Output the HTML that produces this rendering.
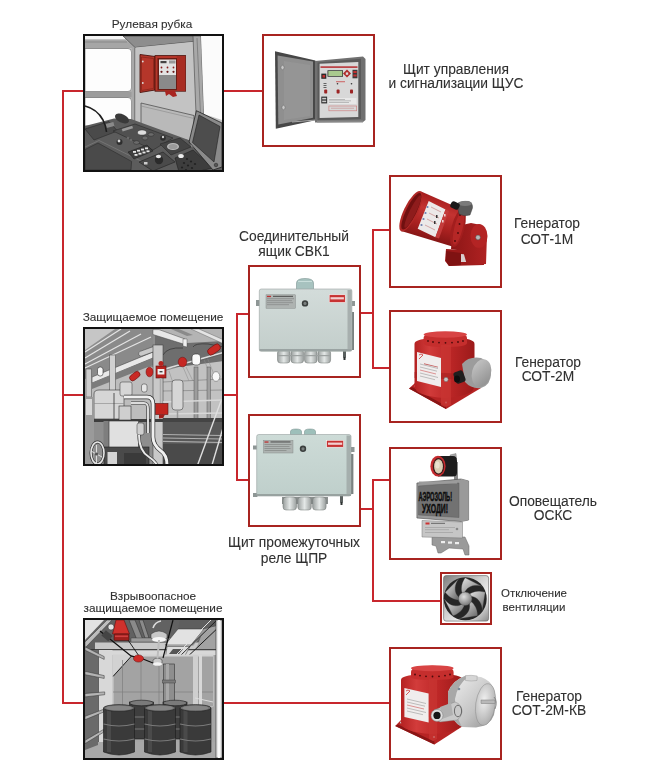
<!DOCTYPE html>
<html><head><meta charset="utf-8">
<style>
html,body{margin:0;padding:0;background:#fff;width:653px;height:783px;overflow:hidden;position:relative}
.a{position:absolute}
.r{position:absolute;background:#c8262d}
.bx{position:absolute;box-sizing:border-box;border:2px solid #a82420;background:#fff}
.sc{position:absolute;overflow:hidden}
.fr{position:absolute;left:0;top:0;right:0;bottom:0;box-sizing:border-box;border:2px solid #111}
.t{position:absolute;font-family:"Liberation Sans",sans-serif;color:#303030;will-change:transform;-webkit-text-stroke:0.1px #303030;white-space:nowrap;text-align:center;width:240px}
.t13{font-size:13.8px;line-height:13.8px}
.t12{font-size:11.8px;line-height:11.8px}
.t11{font-size:11.5px;line-height:11.5px}
svg{position:absolute;left:0;top:0}
</style></head><body>
<div class="r" style="left:62px;top:90px;width:2px;height:614px"></div>
<div class="r" style="left:62px;top:90px;width:21px;height:2px"></div>
<div class="r" style="left:224px;top:90px;width:38px;height:2px"></div>
<div class="r" style="left:62px;top:394px;width:21px;height:2px"></div>
<div class="r" style="left:224px;top:394px;width:13px;height:2px"></div>
<div class="r" style="left:62px;top:702px;width:21px;height:2px"></div>
<div class="r" style="left:224px;top:702px;width:165px;height:2px"></div>
<div class="r" style="left:236px;top:313px;width:2px;height:168px"></div>
<div class="r" style="left:236px;top:313px;width:12px;height:2px"></div>
<div class="r" style="left:236px;top:479px;width:12px;height:2px"></div>
<div class="r" style="left:361px;top:312px;width:12px;height:2px"></div>
<div class="r" style="left:372px;top:229px;width:2px;height:140px"></div>
<div class="r" style="left:372px;top:229px;width:17px;height:2px"></div>
<div class="r" style="left:372px;top:367px;width:17px;height:2px"></div>
<div class="r" style="left:361px;top:508px;width:12px;height:2px"></div>
<div class="r" style="left:372px;top:479px;width:2px;height:123px"></div>
<div class="r" style="left:372px;top:479px;width:17px;height:2px"></div>
<div class="r" style="left:372px;top:600px;width:68px;height:2px"></div>

<div class="bx" style="left:262px;top:34px;width:113px;height:113px"><svg width="109" height="109" viewBox="0 0 109 109" style="left:0;top:0">
<!-- door -->
<polygon points="11,15.2 51.4,24.4 51.4,84.2 11.8,92.7" fill="#474747"/>
<polygon points="13.6,19.4 49,25.6 49,81.8 14.3,88.4" fill="#8f8f8f"/>
<polygon points="20,25 46,29 46,80 20,84" fill="#999" opacity="0.6"/>
<ellipse cx="18.5" cy="31.5" rx="1.6" ry="2.2" fill="#c8c8c8" stroke="#555" stroke-width="0.4"/>
<ellipse cx="19.5" cy="71.5" rx="1.6" ry="2.2" fill="#c8c8c8" stroke="#555" stroke-width="0.4"/>
<line x1="28" y1="86" x2="52" y2="84" stroke="#aaa" stroke-width="1.2"/>
<!-- cabinet -->
<polygon points="51,25 99,20.5 101.5,23 101.5,84 99,86 51,86.5" fill="#707070"/>
<polygon points="53.5,26.5 97,22.8 97,83 53.5,84.5" fill="#5a5a5a"/>
<polygon points="55.6,27.8 94.3,26 94.3,81 55.6,82" fill="#d8d8d8"/>
<rect x="56.5" y="30.3" width="37" height="1.6" fill="#b8363a"/>
<rect x="63.5" y="34.3" width="15.5" height="6.4" fill="#2a2a2a"/>
<rect x="64.3" y="35" width="14" height="5" fill="#a9c98f"/>
<rect x="57.3" y="37.6" width="5" height="5.2" fill="#2a2a2a"/>
<rect x="58.5" y="39" width="2.6" height="2.6" fill="#c43030"/>
<polygon points="83,33.5 87,37.5 83,41.5 79,37.5" fill="#b02a2a"/>
<rect x="81.8" y="36.4" width="2.4" height="2.4" fill="#ddd"/>
<rect x="88.5" y="33.8" width="5" height="8.5" fill="#3a3a3a"/>
<rect x="89.3" y="35" width="3.4" height="2" fill="#c43030"/><rect x="89.3" y="38.5" width="3.4" height="2" fill="#c43030"/>
<rect x="72" y="45.3" width="9" height="0.9" fill="#c55"/>
<circle cx="73.5" cy="47.8" r="0.8" fill="#333"/><circle cx="87.5" cy="47.8" r="0.8" fill="#333"/>
<g fill="#555"><rect x="59.5" y="47" width="3" height="0.9"/><rect x="59.5" y="49" width="3" height="0.9"/><rect x="59.5" y="51" width="3" height="0.9"/></g>
<rect x="60.2" y="53.6" width="3" height="4" rx="0.8" fill="#9c2424"/>
<rect x="72.6" y="53.6" width="3" height="4" rx="0.8" fill="#9c2424"/>
<rect x="86" y="53.6" width="3" height="4" rx="0.8" fill="#9c2424"/>
<rect x="57.3" y="60.6" width="5.8" height="6.8" fill="#2e2e2e"/>
<rect x="58.2" y="61.8" width="4" height="1.6" fill="#ccc"/><rect x="58.2" y="64.6" width="4" height="1.6" fill="#ccc"/>
<rect x="64.5" y="62" width="28" height="6" fill="#e8e8e8"/>
<g fill="#999"><rect x="65" y="63" width="16" height="0.6"/><rect x="65" y="64.6" width="22" height="0.6"/><rect x="65" y="66.2" width="20" height="0.6"/></g>
<rect x="64.9" y="70" width="27.8" height="4.8" fill="none" stroke="#c77" stroke-width="0.6"/>
<rect x="67" y="71.8" width="23" height="0.8" fill="#c9a0a0"/>
<rect x="53" y="84.5" width="46" height="2" fill="#888"/>
</svg></div>
<div class="bx" style="left:248px;top:265px;width:113px;height:113px"><svg width="109" height="109" viewBox="0 0 109 109" style="left:0;top:0">
<defs>
<linearGradient id="gbody" x1="0" y1="0" x2="0" y2="1"><stop offset="0" stop-color="#d3dcda"/><stop offset="1" stop-color="#c3cecb"/></linearGradient>
<linearGradient id="ggl" x1="0" y1="0" x2="1" y2="0"><stop offset="0" stop-color="#9a9f9e"/><stop offset="0.5" stop-color="#e4e8e7"/><stop offset="1" stop-color="#9a9f9e"/></linearGradient>
</defs>
<!-- glands bottom -->
<g stroke="#6f7473" stroke-width="0.5">
<rect x="27.5" y="83" width="12.6" height="13" rx="3" fill="url(#ggl)"/>
<rect x="41" y="83" width="12.6" height="13" rx="3" fill="url(#ggl)"/>
<rect x="54.5" y="83" width="12.6" height="13" rx="3" fill="url(#ggl)"/>
<rect x="68" y="83" width="12.6" height="13" rx="3" fill="url(#ggl)"/>
</g>
<g fill="#9da2a1"><rect x="28" y="88" width="52" height="1.2"/></g>
<!-- top gland -->
<path d="M46.5,22.5 V16 Q46.5,11.5 55,11.5 Q63.5,11.5 63.5,16 V22.5 Z" fill="#a7c2bf" stroke="#6b8582" stroke-width="0.5"/>
<rect x="48" y="14" width="14" height="1" fill="#c9dedb"/>
<!-- side brackets -->
<rect x="6" y="33" width="4" height="6" fill="#8e9695"/>
<rect x="101" y="34" width="4" height="5" fill="#8e9695"/>
<rect x="101.5" y="45" width="2.5" height="38" fill="#7a8281"/>
<path d="M93,84 h3 v6 q-1.5,3 -3,0 z" fill="#5a605f"/><rect x="93.5" y="90" width="2" height="3" fill="#2e3332"/>
<!-- body -->
<rect x="9.3" y="22" width="92.6" height="62.2" rx="2" fill="url(#gbody)" stroke="#9aa2a1" stroke-width="0.6"/>
<rect x="97.5" y="23" width="4.2" height="60" fill="#a7afae"/>
<rect x="9.5" y="82" width="92" height="2.2" fill="#9aa3a2"/>
<!-- label -->
<rect x="16" y="27.8" width="29.5" height="13.5" fill="#aeb3b1" stroke="#7d8281" stroke-width="0.4"/>
<rect x="17" y="28.8" width="4" height="1.3" fill="#b33"/>
<rect x="23" y="28.8" width="20" height="1.1" fill="#555"/>
<g fill="#7c7f7e"><rect x="17" y="31.5" width="27" height="0.6"/><rect x="17" y="33.5" width="25" height="0.6"/><rect x="17" y="35.5" width="26" height="0.6"/><rect x="17" y="37.5" width="22" height="0.6"/></g>
<!-- screw -->
<circle cx="55" cy="36.4" r="3.2" fill="#3b3f3e"/>
<circle cx="55" cy="36.4" r="1.6" fill="#7b807f"/>
<!-- logo -->
<rect x="79.2" y="27.8" width="16" height="7.6" fill="#c73232" stroke="#fff" stroke-width="0.5"/>
<rect x="80.5" y="30.2" width="13.4" height="2.2" fill="#f3d0d0"/>
</svg></div>
<div class="bx" style="left:389px;top:175px;width:113px;height:113px"><svg width="109" height="109" viewBox="0 0 109 109" style="left:0;top:0">
<defs>
<linearGradient id="gr1" gradientUnits="userSpaceOnUse" x1="34" y1="16" x2="22" y2="62"><stop offset="0" stop-color="#a51d1d"/><stop offset="0.3" stop-color="#c33331"/><stop offset="0.65" stop-color="#a92120"/><stop offset="1" stop-color="#7e1313"/></linearGradient>
<linearGradient id="gbr1" x1="0" y1="0" x2="1" y2="0"><stop offset="0" stop-color="#8c1616"/><stop offset="1" stop-color="#b02222"/></linearGradient>
</defs>
<!-- base -->
<polygon points="55,72 92,74 93,88 58,89 54,84" fill="#9c1a1a"/>
<polygon points="55,74 70,76 70,88 58,89 55,84" fill="#7f1212"/>
<polygon points="70,77 76,77.5 76,85 70,85" fill="#d9cfcf"/>
<!-- bracket -->
<polygon points="62,50 80,46 90,48 96,58 95,87 76,88 72,74 60,72" fill="url(#gbr1)"/>
<ellipse cx="88" cy="59" rx="8.5" ry="12" fill="#b32424"/>
<circle cx="87" cy="60.5" r="2.4" fill="#b8b8b8" stroke="#4a4a4a" stroke-width="0.5"/>
<!-- cylinder body -->
<polygon points="29.6,14.3 70,32 63,70 10.2,54.1" fill="url(#gr1)"/>
<!-- rear flange -->
<ellipse cx="67" cy="51" rx="6.5" ry="19.5" fill="#a21e1e" transform="rotate(14 67 51)"/>
<ellipse cx="67.5" cy="51" rx="4.2" ry="17" fill="#b52726" transform="rotate(14 67.5 51)"/>
<g fill="#4a0a0a"><circle cx="69" cy="38" r="0.9"/><circle cx="68.5" cy="47" r="0.9"/><circle cx="67" cy="56" r="0.9"/><circle cx="64" cy="64" r="0.9"/></g>
<!-- label -->
<polygon points="37.7,24 54.5,32.4 44.4,60.2 26.7,51.8" fill="#ece9e9"/>
<g fill="#6c7fb0"><circle cx="36.5" cy="30" r="1.1"/><circle cx="34.5" cy="36" r="1.1"/><circle cx="32.5" cy="42" r="1.1"/><circle cx="30.5" cy="48" r="1.1"/></g>
<g stroke="#b86060" stroke-width="0.5"><line x1="40" y1="30" x2="50" y2="35"/><line x1="38" y1="36" x2="48" y2="41"/><line x1="36" y1="42" x2="46" y2="47"/><line x1="34" y1="48" x2="44" y2="53"/></g>
<g fill="#333"><rect x="45" y="38" width="1.5" height="3"/><rect x="43" y="44" width="1.5" height="3"/></g>
<polygon points="54.5,32.4 58,34 48,61.5 44.4,60.2" fill="#c33b3b"/>
<g fill="#f0d0d0"><rect x="53" y="37" width="1.6" height="2.5"/><rect x="51" y="43" width="1.6" height="2.5"/></g>
<!-- front rim -->
<ellipse cx="19.9" cy="34.2" rx="7" ry="22.2" fill="#b02826" transform="rotate(26 19.9 34.2)"/>
<ellipse cx="20.3" cy="34.2" rx="5.2" ry="20.2" fill="#701010" transform="rotate(26 20.3 34.2)"/>
<ellipse cx="21.8" cy="34.6" rx="3.2" ry="18" fill="#8e1c1c" transform="rotate(26 21.8 34.6)"/>
<!-- junction box -->
<path d="M66,27 Q70,23.5 78,24.5 Q82,26 81.5,31 L79,38 Q73,40 68,37 Z" fill="#5a5a5a" stroke="#333" stroke-width="0.4"/>
<ellipse cx="74" cy="26.5" rx="7" ry="2.6" fill="#7a7a7a"/>
<rect x="59.5" y="25" width="9" height="7" rx="2.5" fill="#1a1a1a" transform="rotate(25 64 28.5)"/>
</svg></div>
<div class="bx" style="left:389px;top:310px;width:113px;height:113px"><svg width="109" height="109" viewBox="0 0 109 109" style="left:0;top:0">
<defs>
<linearGradient id="gr2" x1="0" y1="0" x2="1" y2="0"><stop offset="0" stop-color="#b42222"/><stop offset="0.25" stop-color="#d13b3a"/><stop offset="0.6" stop-color="#bb2626"/><stop offset="1" stop-color="#9c1a1a"/></linearGradient>
<linearGradient id="gg2" x1="0" y1="0" x2="1" y2="1"><stop offset="0" stop-color="#c9c9c9"/><stop offset="1" stop-color="#8a8a8a"/></linearGradient>
</defs>
<!-- base plate -->
<polygon points="18,76.5 24,71 85,71 90,76 55,97" fill="#b52323"/>
<polygon points="18,76.5 55,97 55,94 21,75" fill="#8a1515"/>
<circle cx="24.5" cy="74" r="1" fill="#ccc"/><circle cx="55" cy="90.5" r="1.1" fill="#ccc"/>
<!-- body -->
<path d="M23.5,32 Q23.5,27 40,26.5 L70,26.5 Q83.5,27 83.5,32 V74 Q83.5,84 54,86 Q23.5,84 23.5,74 Z" fill="url(#gr2)"/>
<!-- cap -->
<path d="M32.6,26 Q32.6,20 54.3,20 Q76,20 76,26 V31 Q76,35 54.3,35 Q32.6,35 32.6,31 Z" fill="#c52e2d"/>
<ellipse cx="54.3" cy="22.5" rx="21.7" ry="3.2" fill="#d84444"/>
<g fill="#4a0a0a"><circle cx="37" cy="29" r="0.9"/><circle cx="42" cy="30" r="0.9"/><circle cx="48" cy="30.6" r="0.9"/><circle cx="54.5" cy="30.8" r="0.9"/><circle cx="61" cy="30.6" r="0.9"/><circle cx="67" cy="30" r="0.9"/><circle cx="72" cy="29" r="0.9"/></g>
<!-- strap -->
<polygon points="50,33 60,33 60,93 54,95 50,93" fill="#c83432" opacity="0.8"/>
<polygon points="23.5,60 83.5,62 83.5,68 23.5,66" fill="#a51f1f" opacity="0.6"/>
<!-- label -->
<polygon points="26,40 50,46 50,75 26,69" fill="#f0eded"/>
<path d="M28,43 q2,-2 4,0 q-2,2 -4,4" fill="none" stroke="#c33" stroke-width="0.8"/>
<g fill="#c46060"><rect x="33" y="43" width="14" height="0.9" transform="skewY(14)" /></g>
<g stroke="#999" stroke-width="0.6"><line x1="29" y1="52" x2="47" y2="56.5"/><line x1="29" y1="55" x2="46" y2="59.2"/><line x1="29" y1="61" x2="47" y2="65.5"/><line x1="29" y1="64" x2="44" y2="67.7"/></g>
<g stroke="#c55" stroke-width="0.6"><line x1="29" y1="58" x2="45" y2="62"/></g>
<circle cx="55" cy="67.5" r="2.2" fill="#c4c4c4" stroke="#555" stroke-width="0.4"/>
<!-- junction box -->
<path d="M71,52 Q78,44 90,46 Q100,50 100,61 Q100,73 90,76 Q80,77 74,70 Z" fill="#9c9c9c"/>
<ellipse cx="90.5" cy="61" rx="9.5" ry="14" fill="url(#gg2)" transform="rotate(15 90.5 61)"/>
<rect x="63.5" y="59" width="10" height="12" rx="2.5" fill="#1f1f1f" transform="rotate(-20 68.5 65)"/>
<ellipse cx="66" cy="67" rx="3" ry="3.6" fill="#0e0e0e"/>
</svg></div>
<div class="bx" style="left:248px;top:414px;width:113px;height:113px"><svg width="109" height="108" viewBox="0 0 109 108" style="left:0;top:0">
<defs>
<linearGradient id="gbody2" x1="0" y1="0" x2="0" y2="1"><stop offset="0" stop-color="#cddbd7"/><stop offset="1" stop-color="#bfcfcb"/></linearGradient>
<linearGradient id="ggl2" x1="0" y1="0" x2="1" y2="0"><stop offset="0" stop-color="#9a9f9e"/><stop offset="0.5" stop-color="#e4e8e7"/><stop offset="1" stop-color="#9a9f9e"/></linearGradient>
</defs>
<rect x="32" y="81" width="46" height="7" fill="#8b908f"/>
<g stroke="#6f7473" stroke-width="0.5">
<rect x="33" y="81" width="13.5" height="13" rx="3" fill="url(#ggl2)"/>
<rect x="47.8" y="81" width="13.5" height="13" rx="3" fill="url(#ggl2)"/>
<rect x="62.6" y="81" width="13.5" height="13" rx="3" fill="url(#ggl2)"/>
</g>
<path d="M40.5,19 V15.5 Q40.5,13 46,13 Q51.5,13 51.5,15.5 V19 Z" fill="#9dbfba" stroke="#6b8582" stroke-width="0.5"/>
<path d="M54.5,19 V15.5 Q54.5,13 60,13 Q65.5,13 65.5,15.5 V19 Z" fill="#9dbfba" stroke="#6b8582" stroke-width="0.5"/>
<rect x="3" y="29.5" width="4.5" height="4" fill="#8e9695"/>
<rect x="3" y="77" width="4.5" height="4" fill="#8e9695"/>
<rect x="100.5" y="31" width="4" height="5" fill="#8e9695"/>
<rect x="101" y="38" width="2.4" height="40" fill="#7a8281"/>
<path d="M90,80 h3 v6 q-1.5,3 -3,0 z" fill="#5a605f"/><rect x="90.5" y="86" width="2" height="3" fill="#2e3332"/>
<rect x="6.7" y="18.5" width="94.3" height="61.5" rx="2" fill="url(#gbody2)" stroke="#97a09f" stroke-width="0.6"/>
<rect x="96.5" y="19.5" width="4.3" height="60" fill="#a5afad"/>
<rect x="7" y="78" width="94" height="2" fill="#98a2a0"/>
<rect x="13.5" y="24.4" width="29.5" height="12.6" fill="#aeb4b2" stroke="#7d8281" stroke-width="0.4"/>
<rect x="14.5" y="25.4" width="4" height="1.3" fill="#b33"/>
<rect x="20.5" y="25.4" width="20" height="1.1" fill="#555"/>
<g fill="#7c7f7e"><rect x="14.5" y="28.2" width="27" height="0.6"/><rect x="14.5" y="30.2" width="25" height="0.6"/><rect x="14.5" y="32.2" width="26" height="0.6"/><rect x="14.5" y="34.2" width="22" height="0.6"/></g>
<circle cx="53" cy="32.8" r="3.2" fill="#3b3f3e"/>
<circle cx="53" cy="32.8" r="1.6" fill="#7b807f"/>
<rect x="76.7" y="24.4" width="16.8" height="6.8" fill="#c73232" stroke="#fff" stroke-width="0.5"/>
<rect x="78" y="26.6" width="14.2" height="2.2" fill="#f3d0d0"/>
</svg></div>
<div class="bx" style="left:389px;top:447px;width:113px;height:113px"><svg width="109" height="108" viewBox="0 0 109 108" style="left:0;top:0">
<defs>
<linearGradient id="gbox" x1="0" y1="0" x2="1" y2="0"><stop offset="0" stop-color="#8a8a8a"/><stop offset="0.5" stop-color="#777"/><stop offset="1" stop-color="#6a6a6a"/></linearGradient>
</defs>
<!-- bottom bracket -->
<polygon points="41,88 74,88 78,97 78,106 74,106 72,100 58,99 50,104 47,104 45,97 41,96" fill="#9a9a9a" stroke="#666" stroke-width="0.5"/>
<g fill="#eee"><rect x="50" y="92" width="4" height="2.2"/><rect x="57" y="92.5" width="4" height="2.2"/><rect x="64" y="93" width="4" height="2.2"/></g>
<!-- top bracket -->
<polygon points="59,6 65,4.5 65.5,10 59.5,11" fill="#a8a8a8" stroke="#666" stroke-width="0.4"/>
<rect x="63" y="13" width="4" height="18" fill="#8a8a8a"/>
<!-- siren body -->
<path d="M47,7 H62 Q66,7 66,12 V24 Q66,27.5 62,27.5 H47 Z" fill="#1d1d1d"/>
<ellipse cx="47" cy="17.2" rx="7.6" ry="10.4" fill="#c42b2e"/>
<ellipse cx="47.5" cy="17.4" rx="5.6" ry="8.4" fill="#3a1a1a"/>
<ellipse cx="47.5" cy="17.4" rx="4.4" ry="7.2" fill="#d9cdb3"/>
<ellipse cx="46.5" cy="16" rx="2.2" ry="3.6" fill="#ebe2cf"/>
<!-- main box -->
<polygon points="25.9,34 70,30 77.6,32 77.6,71 70,72.5 25.9,69" fill="#9a9a9a" stroke="#4a4a4a" stroke-width="0.6"/>
<polygon points="70,30 77.6,32 77.6,71 70,72.5" fill="#9a9a9a"/>
<polygon points="27.5,37 68,34 68,68.5 27.5,66" fill="#727272" stroke="#555" stroke-width="0.4"/>
<rect x="28" y="32.5" width="38" height="2" fill="#9c9c9c"/>
<text x="27.5" y="51.8" font-family="Liberation Sans" font-weight="bold" font-size="12.5" fill="#0e0e0e" stroke="#0e0e0e" stroke-width="0.5" textLength="33.5" lengthAdjust="spacingAndGlyphs">АЭРОЗОЛЬ!</text>
<text x="31" y="64.3" font-family="Liberation Sans" font-weight="bold" font-size="12.5" fill="#0e0e0e" stroke="#0e0e0e" stroke-width="0.5" textLength="26" lengthAdjust="spacingAndGlyphs">УХОДИ!</text>
<!-- label box -->
<polygon points="31,71.5 71.5,73 71.5,89 31,88" fill="#c6c6c6" stroke="#777" stroke-width="0.5"/>
<rect x="34.5" y="73.5" width="4" height="2" fill="#c33"/>
<rect x="40" y="73.8" width="14" height="1.2" fill="#777"/>
<g fill="#999"><rect x="34" y="78" width="30" height="0.6"/><rect x="34" y="80.5" width="24" height="0.6"/><rect x="34" y="83" width="28" height="0.6"/></g>
<circle cx="66" cy="80" r="1.3" fill="#888"/>
</svg></div>
<div class="bx" style="left:440px;top:572px;width:52px;height:53px"><svg width="52" height="53" viewBox="0 0 52 53" style="left:-2px;top:-2px">
<defs>
<linearGradient id="gfr" x1="0" y1="0" x2="1" y2="1"><stop offset="0" stop-color="#7e7e7e"/><stop offset="0.45" stop-color="#d0d0d0"/><stop offset="0.7" stop-color="#f0f0f0"/><stop offset="1" stop-color="#8a8a8a"/></linearGradient>
<radialGradient id="ghub" cx="0.4" cy="0.35" r="0.75"><stop offset="0" stop-color="#e0e0e0"/><stop offset="1" stop-color="#6a6a6a"/></radialGradient>
<linearGradient id="gbl" x1="0" y1="0" x2="1" y2="1"><stop offset="0" stop-color="#e6e6e6"/><stop offset="0.5" stop-color="#a8a8a8"/><stop offset="1" stop-color="#606060"/></linearGradient>
</defs>
<rect x="3.6" y="3.6" width="45" height="45.5" rx="2.5" fill="url(#gfr)"/>
<rect x="3.6" y="3.6" width="45" height="45.5" rx="2.5" fill="none" stroke="#5a5a5a" stroke-width="0.6"/>
<circle cx="25.2" cy="26.8" r="21.5" fill="#262626"/>
<g fill="url(#gbl)" stroke="#3a3a3a" stroke-width="0.3">
<path d="M22.2,21.6 L21.8,20.1 L21.5,18.6 L21.4,17.0 L21.5,15.4 L21.7,13.8 L22.1,12.1 L22.6,10.5 L23.3,8.9 L24.2,7.3 L25.2,5.8 L42.2,14.5 L39.7,13.8 L37.3,13.4 L34.9,13.5 L32.7,13.8 L30.7,14.5 L28.9,15.4 L27.4,16.5 L26.2,17.9 L25.2,19.3 L24.6,20.8 Z"/>
<path d="M29.2,22.3 L30.5,21.5 L31.9,20.8 L33.4,20.2 L34.9,19.7 L36.5,19.4 L38.2,19.3 L39.9,19.3 L41.6,19.5 L43.4,19.8 L45.2,20.3 L42.2,39.1 L42.1,36.6 L41.6,34.1 L40.9,31.9 L39.9,29.9 L38.6,28.2 L37.2,26.8 L35.6,25.7 L34.0,25.0 L32.3,24.5 L30.7,24.4 Z"/>
<path d="M30.7,29.2 L31.9,30.2 L33.0,31.3 L34.0,32.5 L34.9,33.9 L35.7,35.3 L36.3,36.8 L36.9,38.5 L37.2,40.2 L37.5,42.0 L37.5,43.8 L18.7,46.8 L21.1,45.9 L23.3,44.7 L25.2,43.3 L26.7,41.7 L28.0,40.0 L28.9,38.2 L29.4,36.4 L29.7,34.6 L29.6,32.9 L29.2,31.3 Z"/>
<path d="M24.6,32.8 L24.0,34.2 L23.3,35.6 L22.5,36.9 L21.5,38.2 L20.4,39.4 L19.1,40.5 L17.7,41.5 L16.2,42.4 L14.6,43.2 L12.9,43.8 L4.2,26.8 L5.8,28.8 L7.6,30.5 L9.5,31.9 L11.5,32.9 L13.5,33.5 L15.5,33.8 L17.4,33.8 L19.1,33.5 L20.8,32.8 L22.2,32.0 Z"/>
<path d="M19.3,28.0 L17.8,28.0 L16.2,27.7 L14.7,27.3 L13.2,26.8 L11.7,26.1 L10.3,25.2 L8.9,24.2 L7.6,23.1 L6.4,21.8 L5.2,20.3 L18.7,6.8 L17.3,9.0 L16.2,11.2 L15.5,13.4 L15.2,15.6 L15.2,17.7 L15.5,19.7 L16.1,21.5 L17.0,23.1 L18.1,24.4 L19.3,25.5 Z"/>
</g>
<circle cx="25.2" cy="26.8" r="6.8" fill="url(#ghub)" stroke="#444" stroke-width="0.4"/>
</svg></div>
<div class="bx" style="left:389px;top:647px;width:113px;height:113px"><svg width="109" height="109" viewBox="0 0 109 109" style="left:0;top:0">
<defs>
<linearGradient id="gr3" x1="0" y1="0" x2="1" y2="0"><stop offset="0" stop-color="#b52222"/><stop offset="0.25" stop-color="#d23c3b"/><stop offset="0.6" stop-color="#bd2727"/><stop offset="1" stop-color="#9c1a1a"/></linearGradient>
<linearGradient id="gs3" x1="0" y1="0" x2="1" y2="1"><stop offset="0" stop-color="#f2f2f2"/><stop offset="0.6" stop-color="#c4c4c4"/><stop offset="1" stop-color="#8e8e8e"/></linearGradient>
<radialGradient id="gs4" cx="0.4" cy="0.4" r="0.7"><stop offset="0" stop-color="#f0f0f0"/><stop offset="1" stop-color="#a8a8a8"/></radialGradient>
</defs>
<polygon points="4.2,77 10,71 66,71 72,77 43.4,95.5" fill="#b72424"/>
<polygon points="4.2,77 43.4,95.5 43.4,92.5 7,75.5" fill="#8a1515"/>
<circle cx="10" cy="73.5" r="1" fill="#ccc"/><circle cx="43" cy="88" r="1.1" fill="#ccc"/>
<path d="M10,31 Q10,26 30,25.5 L55,25.5 Q71.8,26 71.8,31 V73 Q71.8,83 41,85 Q10,83 10,73 Z" fill="url(#gr3)"/>
<path d="M20,23 Q20,16.7 41.3,16.7 Q62.6,16.7 62.6,23 V28 Q62.6,31 41.3,31 Q20,31 20,28 Z" fill="#c52e2d"/>
<ellipse cx="41.3" cy="19.2" rx="21.3" ry="3" fill="#d84444"/>
<g fill="#4a0a0a"><circle cx="24" cy="25.5" r="0.9"/><circle cx="29" cy="26.6" r="0.9"/><circle cx="35" cy="27.3" r="0.9"/><circle cx="41.5" cy="27.5" r="0.9"/><circle cx="48" cy="27.3" r="0.9"/><circle cx="54" cy="26.6" r="0.9"/><circle cx="59" cy="25.5" r="0.9"/></g>
<polygon points="38,30 46,30 46,90 42,92 38,90" fill="#c83432" opacity="0.7"/>
<polygon points="13.4,39 37.6,44.5 37.6,73.5 13.4,68" fill="#f0eded"/>
<path d="M15,42 q2,-2 4,0 q-2,2 -4,4" fill="none" stroke="#c33" stroke-width="0.8"/>
<g stroke="#999" stroke-width="0.6"><line x1="16" y1="50" x2="35" y2="54.5"/><line x1="16" y1="53" x2="34" y2="57.2"/><line x1="16" y1="59" x2="35" y2="63.5"/><line x1="16" y1="62" x2="32" y2="65.7"/></g>
<g stroke="#c55" stroke-width="0.6"><line x1="16" y1="56" x2="33" y2="60"/></g>
<!-- silver junction box -->
<path d="M57,43 Q62,31 74.4,26.7 L90,28 Q99,31 103,40 Q106,50 103,66 Q99,77 85,78.5 L71,78 Q60,72 57,58 Z" fill="url(#gs3)"/>
<path d="M57,43 Q62,31 74.4,26.7 L78,27 Q66,36 64,50 Q64,66 71,78 Q60,72 57,58 Z" fill="#a8a8a8"/>
<ellipse cx="94.5" cy="55.5" rx="9.8" ry="21" fill="url(#gs4)" stroke="#8a8a8a" stroke-width="0.5" transform="rotate(8 94.5 55.5)"/>
<path d="M74.4,26.7 Q80,25.8 86.2,27 L86,31.5 Q80,32.5 74.5,31.5 Z" fill="#d6d6d6" stroke="#8a8a8a" stroke-width="0.4"/>
<rect x="90" y="51" width="14" height="3.6" fill="#b8b8b8" stroke="#6a6a6a" stroke-width="0.4"/>
<path d="M103,48 Q107,52 104,60" fill="none" stroke="#777" stroke-width="0.8"/>
<circle cx="68" cy="40" r="1.3" fill="#7a8a9a"/>
<!-- gland -->
<path d="M43,61 L64,53 Q71,55 71,63 Q70,69 66,71 L49,73 Q42,70 43,61 Z" fill="#c9c9c9" stroke="#7a7a7a" stroke-width="0.4"/>
<ellipse cx="67" cy="62" rx="3.6" ry="5.8" fill="none" stroke="#444" stroke-width="0.7"/>
<path d="M49,58 L60,54 L62,66 L51,70 Z" fill="#b0b0b0"/>
<circle cx="46" cy="66.4" r="6" fill="#dedede" stroke="#7a7a7a" stroke-width="0.5"/>
<circle cx="46" cy="66.4" r="3.6" fill="#161616"/>
</svg></div>

<div class="sc" style="left:83px;top:34px;width:141px;height:138px"><svg width="141" height="138" viewBox="0 0 141 138" style="left:0;top:0">
<rect x="0" y="0" width="141" height="138" fill="#c2c2c2"/>
<!-- top strip and band -->
<rect x="2" y="2" width="40" height="3.5" fill="#f4f4f4"/>
<polygon points="2,5.5 42,5.5 48,10 52,14 2,14" fill="#a6a6a6"/>
<line x1="2" y1="8" x2="44" y2="8" stroke="#777" stroke-width="0.6"/>
<!-- ceiling -->
<polygon points="40,2 113,2 111,7.5 52,13.5" fill="#8d8d8d" stroke="#333" stroke-width="0.6"/>
<!-- window 1 -->
<path d="M2,14.5 H45 Q48.5,14.5 48.5,18 V54 Q48.5,57.5 45,57.5 H2 Z" fill="#fdfdfd" stroke="#555" stroke-width="0.6"/>
<rect x="2" y="57.5" width="47" height="6" fill="#9c9c9c"/>
<!-- window 2 -->
<path d="M2,63.5 H45 Q48.5,63.5 48.5,67 V92 H2 Z" fill="#fdfdfd" stroke="#555" stroke-width="0.6"/>
<!-- pillar left -->
<rect x="48.5" y="13.5" width="3.5" height="85" fill="#a9a9a9"/>
<line x1="52" y1="13.5" x2="52" y2="98" stroke="#333" stroke-width="0.7"/>
<!-- wall -->
<polygon points="52.4,13.6 111,7.8 113,98 52.4,98" fill="#c3c3c3"/>
<!-- lower wall panel -->
<polygon points="58,69 111,81.5 111,108 58,95" fill="#b9b9b9" stroke="#444" stroke-width="0.7"/>
<line x1="58" y1="72" x2="111" y2="84.5" stroke="#8a8a8a" stroke-width="0.6"/>
<!-- right pillar and window -->
<polygon points="110,2 118,2 121,84 113,80" fill="#a8a8a8" stroke="#444" stroke-width="0.6"/>
<polygon points="118,2 139,2 139,86 121,80" fill="#fbfbfb"/>
<line x1="114" y1="4" x2="117.5" y2="80" stroke="#666" stroke-width="0.6"/>
<!-- red cabinet door -->
<polygon points="57,20.5 72,22.5 72,56 57,58.5" fill="#b5362a" stroke="#4a120c" stroke-width="0.9"/>
<polygon points="58.5,23 70.5,24.5 70.5,54.5 58.5,56.5" fill="none" stroke="#7a2016" stroke-width="0.6"/>
<circle cx="59.8" cy="27.5" r="0.9" fill="#ddd"/>
<circle cx="59.8" cy="49" r="0.9" fill="#ddd"/>
<!-- cabinet body -->
<rect x="72" y="21.6" width="30.6" height="35.6" fill="#b5362a" stroke="#4a120c" stroke-width="0.8"/>
<rect x="93.8" y="22" width="8.6" height="35" fill="#a82c22"/>
<rect x="74.5" y="24" width="19.5" height="32" fill="#6a1c14"/>
<rect x="76" y="25.5" width="17" height="15.5" fill="#e3e3e3"/>
<rect x="76" y="41" width="17" height="14" fill="#8a8a8a"/>
<rect x="77.5" y="27" width="6" height="2.2" fill="#444"/>
<rect x="86" y="26.5" width="6.5" height="3" fill="#999"/>
<circle cx="78.5" cy="33.5" r="0.9" fill="#8a2020"/><circle cx="84.5" cy="33.5" r="0.9" fill="#8a2020"/><circle cx="90.5" cy="33.5" r="0.9" fill="#8a2020"/>
<circle cx="78.5" cy="37.8" r="1.1" fill="#6a1a1a"/><circle cx="84.5" cy="37.8" r="1.1" fill="#6a1a1a"/><circle cx="90.5" cy="37.8" r="1.1" fill="#6a1a1a"/>
<polygon points="82,57 92,57 94,62 90,63 86,60 83,62" fill="#a82420"/>
<!-- console -->
<polygon points="2,92 31,84.5 48,85 107,106.5 108,112 139,132 139,138 0,138 2,95" fill="#5c5c5c"/>
<polygon points="2,95 26,87.5 34.5,97 11,106" fill="#4a4a4a" stroke="#2a2a2a" stroke-width="0.6"/>
<rect x="23" y="89" width="8" height="4" fill="#8a8a8a" transform="rotate(-15 27 91)"/>
<polygon points="2,115.5 15,109 48.6,127.4 48,136 2,136" fill="#4a4a4a" stroke="#2a2a2a" stroke-width="0.6"/>
<line x1="2" y1="113" x2="16" y2="106.5" stroke="#7a7a7a" stroke-width="0.8"/>
<line x1="16" y1="106.5" x2="58" y2="127" stroke="#7a7a7a" stroke-width="0.8"/>
<!-- phone -->
<ellipse cx="39" cy="84.5" rx="7.5" ry="4.2" fill="#3a3a3a" transform="rotate(25 39 84.5)"/>
<!-- mic -->
<path d="M2,72 Q14,75 20,86 Q23,92 23.5,98" fill="none" stroke="#1e1e1e" stroke-width="1.6"/>
<!-- center button panel -->
<polygon points="30,97 52,90 90,104 70,116" fill="#505050" stroke="#2a2a2a" stroke-width="0.6"/>
<rect x="39" y="93.5" width="11" height="2.6" fill="#9a9a9a" transform="rotate(-18 44 95)"/>
<ellipse cx="59" cy="98.5" rx="4.5" ry="2.6" fill="#dedede" stroke="#333" stroke-width="0.5"/>
<ellipse cx="62" cy="104" rx="3" ry="2" fill="#6a6a6a" stroke="#2a2a2a" stroke-width="0.5"/>
<ellipse cx="68" cy="100.5" rx="3" ry="1.8" fill="#6a6a6a" stroke="#2a2a2a" stroke-width="0.5"/>
<ellipse cx="53.5" cy="108.5" rx="3" ry="1.8" fill="#6a6a6a" stroke="#2a2a2a" stroke-width="0.5"/>
<circle cx="45" cy="104" r="1.3" fill="#6a6a6a"/><circle cx="48" cy="106" r="1.3" fill="#6a6a6a"/>
<circle cx="36.5" cy="108" r="3" fill="#2e2e2e"/><circle cx="36" cy="107" r="1.4" fill="#ddd"/>
<circle cx="80" cy="104" r="2.8" fill="#2e2e2e"/><circle cx="80" cy="103" r="1.2" fill="#ccc"/>
<!-- speaker -->
<polygon points="77,110 97,104 108,113 88,121" fill="#444" stroke="#2a2a2a" stroke-width="0.6"/>
<ellipse cx="90" cy="112.5" rx="6" ry="3.6" fill="#bdbdbd"/>
<ellipse cx="90" cy="112.5" rx="4.6" ry="2.6" fill="#9a9a9a"/>
<!-- white button pad -->
<polygon points="45,118 64,111 70,117 51,125" fill="#3e3e3e" stroke="#222" stroke-width="0.6"/>
<g fill="#e6e6e6">
<rect x="50" y="117" width="3" height="1.8"/><rect x="54" y="115.8" width="3" height="1.8"/><rect x="58" y="114.6" width="3" height="1.8"/><rect x="62" y="113.4" width="3" height="1.8"/>
<rect x="51.5" y="120" width="3" height="1.8"/><rect x="55.5" y="118.8" width="3" height="1.8"/><rect x="59.5" y="117.6" width="3" height="1.8"/><rect x="63.5" y="116.4" width="3" height="1.8"/>
</g>
<!-- joystick -->
<polygon points="56,128 80,118 92,128 70,137" fill="#4a4a4a" stroke="#222" stroke-width="0.6"/>
<circle cx="76" cy="126" r="4.2" fill="#2b2b2b"/><ellipse cx="75.5" cy="122.5" rx="2.6" ry="1.8" fill="#e8e8e8"/>
<rect x="61" y="128" width="3.5" height="2.5" fill="#ccc"/>
<!-- right keypad -->
<polygon points="92,124 110,116 130,134 112,138 96,138" fill="#3d3d3d" stroke="#222" stroke-width="0.6"/>
<ellipse cx="98" cy="122" rx="2.8" ry="2" fill="#eee"/>
<g fill="#222"><circle cx="104" cy="125" r="1.1"/><circle cx="108" cy="127.5" r="1.1"/><circle cx="112" cy="130" r="1.1"/><circle cx="101" cy="129" r="1.1"/><circle cx="105" cy="131.5" r="1.1"/><circle cx="109" cy="134" r="1.1"/><circle cx="99" cy="133.5" r="1.1"/><circle cx="103" cy="136" r="1.1"/></g>
<!-- monitor -->
<polygon points="113.4,76.7 139,89 139,133 130,136 106,108" fill="#8a8a8a" stroke="#222" stroke-width="0.8"/>
<polygon points="116,81 137,92.5 131,128 109.5,108.5" fill="#4d4d4d" stroke="#222" stroke-width="0.6"/>
<circle cx="133" cy="131" r="1.8" fill="#555" stroke="#222" stroke-width="0.5"/>
</svg><div class="fr"></div></div>
<div class="sc" style="left:83px;top:327px;width:141px;height:139px"><svg width="141" height="138" viewBox="0 0 141 138" style="left:0;top:0">
<rect x="0" y="0" width="141" height="138" fill="#8e8e8e"/>
<!-- far walls light -->
<rect x="2" y="40" width="137" height="55" fill="#bdbdbd"/>
<!-- ceiling left light triangle -->
<polygon points="2,2 32,2 2,23" fill="#c6c6c6"/>
<!-- ceiling panels darker bands -->
<polygon points="2,26 40,2 70,2 70,25 9,50 2,52" fill="#8a8a8a"/>

<g stroke="#e4e4e4" stroke-width="1.2">
<line x1="2" y1="25" x2="38" y2="2"/>
<line x1="2" y1="31" x2="47" y2="4"/>
<line x1="2" y1="37" x2="58" y2="7"/>
<line x1="2" y1="41" x2="68" y2="10"/>
</g>
<!-- duct top right -->
<polygon points="72,2 141,2 141,36 80,42 72,31" fill="#6e6e6e"/>
<polygon points="70,2 141,2 141,14 104,16 76,8" fill="#b4b4b4"/>
<polygon points="69.9,2.6 76,2.6 102,12 102,17.5 69.9,7.5" fill="#e8e8e8" stroke="#444" stroke-width="0.5"/>
<polygon points="100,12 104,12 104,20 100,19" fill="#f0f0f0" stroke="#444" stroke-width="0.4"/>
<polygon points="108,2 116,2 141,13 141,17" fill="#e4e4e4" stroke="#555" stroke-width="0.4"/>
<polygon points="88,2 96,2 110,8 104,9" fill="#8a8a8a"/>
<path d="M110,20 Q112,16 125,17 L141,20" fill="none" stroke="#3a3a3a" stroke-width="0.8"/>
<path d="M80,28 Q84,20 100,21" fill="none" stroke="#3a3a3a" stroke-width="0.8"/>
<polygon points="80,42 141,34 141,138 80,138" fill="#c2c2c2"/>
<g stroke="#8a8a8a" stroke-width="0.5">
<line x1="100" y1="40" x2="106" y2="54"/><line x1="103" y1="40" x2="110" y2="54"/>
<line x1="120" y1="30" x2="128" y2="50"/><line x1="124" y1="30" x2="132" y2="50"/>
<line x1="86" y1="44" x2="90" y2="56"/>
</g>
<!-- cross beam (left half) -->
<polygon points="9,50 70,25 70,31 9,56" fill="#e8e8e8" stroke="#444" stroke-width="0.6"/>
<polygon points="9,56 70,31 70,38 9,62" fill="#7c7c7c"/>
<line x1="80" y1="42.5" x2="139.4" y2="25.7" stroke="#dcdcdc" stroke-width="1.5"/>
<line x1="80" y1="44" x2="139.4" y2="27.2" stroke="#555" stroke-width="0.5"/>
<!-- pipe on ceiling -->
<rect x="55" y="22" width="18" height="5" rx="2.5" fill="#c9c9c9" stroke="#444" stroke-width="0.5" transform="rotate(-20 64 24)"/>
<!-- wall lines -->
<g stroke="#8a8a8a" stroke-width="0.8">
<line x1="80" y1="64" x2="139" y2="63"/>
<line x1="80" y1="55" x2="139" y2="52"/>
</g>
<!-- columns -->
<rect x="26.5" y="28" width="6" height="40" fill="#d0d0d0" stroke="#444" stroke-width="0.5"/>
<rect x="3" y="42" width="5.5" height="28" fill="#cdcdcd" stroke="#444" stroke-width="0.5"/>
<rect x="70" y="18" width="10" height="120" fill="#c9c9c9" stroke="#444" stroke-width="0.6"/>
<rect x="111" y="40" width="4" height="52" fill="#9c9c9c" stroke="#444" stroke-width="0.4"/>
<rect x="124" y="40" width="3.5" height="52" fill="#a0a0a0" stroke="#444" stroke-width="0.4"/>
<line x1="80" y1="75" x2="139" y2="73" stroke="#d8d8d8" stroke-width="1.4"/>
<line x1="80" y1="87" x2="139" y2="86" stroke="#d8d8d8" stroke-width="1.4"/>
<!-- tank -->
<rect x="89" y="53" width="11" height="30" rx="3" fill="#d6d6d6" stroke="#444" stroke-width="0.6"/>
<line x1="94.5" y1="83" x2="94.5" y2="91" stroke="#999" stroke-width="1.5"/>
<!-- lamps -->
<rect x="14.5" y="40" width="5.5" height="9" rx="2.5" fill="#f6f6f6" stroke="#333" stroke-width="0.6"/>
<rect x="109" y="27" width="8.5" height="11" rx="3" fill="#fafafa" stroke="#333" stroke-width="0.6"/>
<ellipse cx="133" cy="49.5" rx="3.8" ry="4.8" fill="#f8f8f8" stroke="#555" stroke-width="0.5"/>
<!-- red devices -->
<rect x="46" y="46" width="11.5" height="6" rx="3" fill="#c92a25" stroke="#6a1010" stroke-width="0.6" transform="rotate(-38 52 49)"/>
<ellipse cx="66.5" cy="45" rx="3.5" ry="4.8" fill="#c62824" stroke="#6a1010" stroke-width="0.5"/>
<rect x="73" y="39" width="10" height="12" fill="#b7231f" stroke="#5a1010" stroke-width="0.6"/>
<rect x="74.6" y="42" width="6.8" height="5.5" fill="#f0f0f0"/>
<rect x="76.5" y="44" width="3" height="1.4" fill="#444"/>
<circle cx="78" cy="36.5" r="2.5" fill="#b7231f"/>
<line x1="77.5" y1="51" x2="77.5" y2="76" stroke="#aaa" stroke-width="1.6"/>
<ellipse cx="99.5" cy="35" rx="4.3" ry="4.8" fill="#c62824" stroke="#6a1010" stroke-width="0.5"/>
<rect x="124" y="19" width="14" height="7" rx="3.5" fill="#c92a25" stroke="#6a1010" stroke-width="0.6" transform="rotate(-35 131 22.5)"/>
<!-- engine upper -->
<path d="M11,92 V67 Q11,63 16,63 H38 Q41,63 41,67 V92 Z" fill="#d6d6d6" stroke="#333" stroke-width="0.6"/>
<line x1="11" y1="76.5" x2="41" y2="76.5" stroke="#888" stroke-width="0.6"/>
<line x1="31" y1="66" x2="31" y2="92" stroke="#333" stroke-width="0.8"/>
<rect x="2" y="92" width="78" height="3" fill="#3e3e3e"/>
<rect x="36" y="79" width="12" height="14" fill="#cfcfcf" stroke="#333" stroke-width="0.6"/>
<rect x="37" y="55" width="12" height="14" rx="2" fill="#d6d6d6" stroke="#333" stroke-width="0.5"/>
<rect x="58.5" y="57" width="5.5" height="8" rx="2" fill="#e6e6e6" stroke="#333" stroke-width="0.5"/>
<!-- engine lower -->
<rect x="20.5" y="94" width="6" height="27" fill="#7e7e7e"/>
<rect x="26" y="94" width="29.5" height="27" fill="#e0e0e0" stroke="#333" stroke-width="0.6"/>
<rect x="2" y="70" width="9" height="68" fill="#9a9a9a"/>
<rect x="3" y="72" width="6" height="16" fill="#d8d8d8"/>
<!-- base -->
<rect x="21" y="120" width="45" height="18" fill="#4a4a4a" stroke="#222" stroke-width="0.6"/>
<rect x="24.5" y="125" width="9.5" height="12" fill="#d4d4d4"/>
<rect x="41" y="126" width="22" height="12" fill="#3a3a3a"/>
<ellipse cx="14.5" cy="126" rx="6.5" ry="11" fill="none" stroke="#333" stroke-width="3"/>
<ellipse cx="14.5" cy="126" rx="6.5" ry="11" fill="none" stroke="#e6e6e6" stroke-width="1.6"/>
<line x1="13.5" y1="118" x2="13.5" y2="136" stroke="#ddd" stroke-width="1"/>
<line x1="8" y1="124" x2="19" y2="130" stroke="#ddd" stroke-width="1"/>
<circle cx="13.5" cy="127" r="1.6" fill="#555"/>
<!-- valve parts -->
<rect x="54" y="96" width="7" height="12" rx="2" fill="#cfcfcf" stroke="#333" stroke-width="0.5"/>
<!-- dark floor right -->
<polygon points="80,91 139,92 139,138 80,138" fill="#585858"/>
<rect x="80" y="91" width="59" height="4" fill="#444"/>
<rect x="80" y="117" width="59" height="21" fill="#4a4a4a"/>
<g stroke="#b0b0b0" stroke-width="1.2">
<line x1="80" y1="107.5" x2="139" y2="108.5"/>
<line x1="80" y1="111" x2="139" y2="112"/>
<line x1="80" y1="114.3" x2="139" y2="115.5"/>
</g>
<line x1="114.6" y1="138" x2="138" y2="74" stroke="#e0e0e0" stroke-width="1.4"/>
<line x1="129" y1="138" x2="140" y2="101" stroke="#e0e0e0" stroke-width="1.4"/>
<!-- red box -->
<rect x="72.5" y="76.5" width="12.5" height="11" fill="#c2251f" stroke="#5a1010" stroke-width="0.6"/>
<polygon points="76,87.5 82,87.5 80,91 76,91.5" fill="#a01d1a"/>
<!-- thick white pipes -->
<path d="M41,70 H64 Q70,70 70,77 V110 Q70,118 78,124 Q84,128 84,138" fill="none" stroke="#333" stroke-width="4.4"/>
<path d="M41,70 H64 Q70,70 70,77 V110 Q70,118 78,124 Q84,128 84,138" fill="none" stroke="#f0f0f0" stroke-width="3"/>
<path d="M56,108 Q56,124 66,130 Q72,134 74,138" fill="none" stroke="#333" stroke-width="3.2"/>
<path d="M56,108 Q56,124 66,130 Q72,134 74,138" fill="none" stroke="#e8e8e8" stroke-width="2"/>
<path d="M48,76 H61 Q65,76 65,82 V106" fill="none" stroke="#333" stroke-width="3.2"/>
<path d="M48,76 H61 Q65,76 65,82 V106" fill="none" stroke="#dcdcdc" stroke-width="2"/>
</svg><div class="fr"></div></div>
<div class="sc" style="left:83px;top:618px;width:141px;height:142px"><svg width="141" height="142" viewBox="0 0 141 142" style="left:0;top:0">
<rect x="0" y="0" width="141" height="142" fill="#a6a6a6"/>
<!-- ceiling -->
<rect x="2" y="2" width="137" height="29.5" fill="#626262"/>
<polygon points="2,2 21,2 2,22" fill="#e2e2e2"/>
<polygon points="2,24 24,2 29,2 2,30" fill="#bdbdbd" stroke="#333" stroke-width="0.5"/>
<rect x="12" y="24.5" width="127" height="7" fill="#c9c9c9"/>
<line x1="2" y1="31.8" x2="139" y2="31.8" stroke="#1a1a1a" stroke-width="1"/>
<rect x="29" y="32.4" width="104" height="4.6" fill="#d8d8d8"/>
<g fill="#8a8a8a" stroke="#2a2a2a" stroke-width="0.5">
<polygon points="46,2 52,2 60,22 54,22"/>
<polygon points="56,2 60,2 66,20 62,20"/>
</g>
<rect x="48" y="20" width="40" height="4" fill="#9a9a9a" stroke="#333" stroke-width="0.4"/>
<!-- cable tray -->
<polygon points="121,11 133,8 133,31 113,31" fill="#a2a2a2"/>
<polygon points="97,2 133,2 133,8 121,11 95,11" fill="#5e5e5e"/>
<polygon points="95,11 121,11 108,27 82,27" fill="#e2e2e2" stroke="#333" stroke-width="0.5"/>
<polygon points="121,11 123,12 110,28 108,27" fill="#9a9a9a"/>
<polygon points="84,28.5 107,28.5 95,50 81,50" fill="#dcdcdc" stroke="#333" stroke-width="0.5"/>
<polygon points="90,31 100,31 96,36 86,36" fill="#555"/>
<line x1="139" y1="6" x2="99" y2="44" stroke="#1a1a1a" stroke-width="1"/>
<line x1="134" y1="2" x2="95" y2="40" stroke="#1a1a1a" stroke-width="0.9"/>
<line x1="128" y1="2" x2="90" y2="40" stroke="#e0e0e0" stroke-width="1"/>
<!-- back wall -->
<rect x="29.5" y="36.5" width="101" height="52" fill="#d2d2d2"/>
<polygon points="30.5,57 48,38.5 130,38.5 130,88 30.5,88" fill="#a3a3a3"/>
<line x1="30" y1="58.5" x2="48.5" y2="38" stroke="#111" stroke-width="0.9"/>
<g stroke="#7e7e7e" stroke-width="0.7">
<line x1="39.5" y1="42" x2="39.5" y2="88"/><line x1="58" y1="40" x2="58" y2="88"/><line x1="76" y1="40" x2="76" y2="88"/><line x1="112" y1="40" x2="112" y2="88"/>
<line x1="30" y1="74" x2="130" y2="74"/>
</g>
<rect x="110" y="37" width="5" height="50" fill="#cfcfcf"/>
<rect x="116" y="37" width="3" height="50" fill="#d8d8d8"/>
<line x1="112" y1="80" x2="130" y2="84" stroke="#ddd" stroke-width="1"/>
<!-- pipe -->
<rect x="80.5" y="46" width="11" height="42" fill="#8e8e8e" stroke="#333" stroke-width="0.6"/>
<rect x="83" y="46" width="3" height="42" fill="#a8a8a8"/>
<rect x="79.5" y="62" width="13" height="3" fill="#7a7a7a" stroke="#333" stroke-width="0.4"/>
<!-- left wall & shelves -->
<rect x="13" y="32" width="16.5" height="106" fill="#d8d8d8"/>
<rect x="2" y="32" width="13" height="106" fill="#6a6a6a"/>
<line x1="15.5" y1="32" x2="15.5" y2="130" stroke="#444" stroke-width="0.8"/>
<g fill="#b4b4b4" stroke="#2e2e2e" stroke-width="0.5">
<polygon points="2,28.8 21.2,38.6 21.2,41.4 2,32.2"/>
<polygon points="2,53.3 21.2,57.6 21.2,60.4 2,56.7"/>
<polygon points="2,75.5 21.7,73.9 21.7,76.7 2,78.9"/>
<polygon points="2,98.3 20.6,91.3 20.6,94.1 2,101.7"/>
<polygon points="2,122.3 20.6,111.4 20.6,114.2 2,125.7"/>
</g>
<!-- floor -->
<polygon points="15,124 139,124 139,140 2,140 2,132 15,127" fill="#a8a8a8"/>
<!-- right column -->
<rect x="133" y="2" width="6" height="138" fill="#e6e6e6" stroke="#333" stroke-width="0.6"/>
<rect x="135" y="2" width="2" height="138" fill="#f8f8f8"/>
<!-- lamps -->
<path d="M68,16 Q76,10 84,16 L84,20 Q76,26 68,20 Z" fill="#c8c8c8" stroke="#333" stroke-width="0.5"/>
<ellipse cx="76" cy="21.5" rx="7" ry="2.4" fill="#f6f6f6"/>
<path d="M70,42 Q74.5,38 79,42 V45 Q74.5,49 70,45 Z" fill="#cbcbcb" stroke="#333" stroke-width="0.5"/>
<ellipse cx="74.5" cy="46" rx="4.5" ry="1.8" fill="#f4f4f4"/>
<line x1="76" y1="22" x2="74.5" y2="40" stroke="#bdbdbd" stroke-width="2"/>
<path d="M70,10 Q72,4 78,3" fill="none" stroke="#ddd" stroke-width="1.6"/>
<!-- cables -->
<path d="M17,13 L48,38 L60,41 L70,45" fill="none" stroke="#111" stroke-width="1.3"/>
<path d="M45,22 L56,38" fill="none" stroke="#111" stroke-width="0.9"/>
<path d="M90,2 L80,40" fill="none" stroke="#111" stroke-width="1.2"/>
<!-- red devices -->
<polygon points="33,2 41,2 46.5,16 29.5,16" fill="#d0312c" stroke="#5c1010" stroke-width="0.6"/>
<rect x="31" y="16" width="15" height="6.5" rx="1" fill="#9e1f1c" stroke="#3a0a0a" stroke-width="0.5"/>
<rect x="32" y="17.5" width="13" height="1.6" fill="#d04040"/>
<circle cx="28" cy="9" r="3" fill="#e4e4e4" stroke="#333" stroke-width="0.5"/>
<rect x="20" y="14" width="9" height="7" fill="#444" transform="rotate(40 24 17)"/>
<ellipse cx="55.5" cy="40.5" rx="5" ry="3.6" fill="#cf2b27" stroke="#5c1010" stroke-width="0.5"/>
<!-- barrels back -->
<g>
<rect x="46.5" y="84" width="24" height="37" fill="#3e3e3e" stroke="#1a1a1a" stroke-width="0.6"/>
<ellipse cx="58.5" cy="85" rx="12" ry="2.8" fill="#7a7a7a" stroke="#1a1a1a" stroke-width="0.6"/>
<line x1="46.5" y1="99" x2="70.5" y2="99" stroke="#777" stroke-width="1"/>
<line x1="46.5" y1="111" x2="70.5" y2="111" stroke="#777" stroke-width="1"/>
</g>
<g>
<rect x="80" y="84" width="24" height="37" fill="#3e3e3e" stroke="#1a1a1a" stroke-width="0.6"/>
<ellipse cx="92" cy="85" rx="12" ry="2.8" fill="#7a7a7a" stroke="#1a1a1a" stroke-width="0.6"/>
<line x1="80" y1="99" x2="104" y2="99" stroke="#777" stroke-width="1"/>
<line x1="80" y1="111" x2="104" y2="111" stroke="#777" stroke-width="1"/>
</g>
<!-- barrels front -->
<g id="bf">
<path d="M20.5,90 V134 Q36,140 51.5,134 V90 Z" fill="#3a3a3a" stroke="#1a1a1a" stroke-width="0.6"/>
<rect x="24" y="92" width="4" height="42" fill="#4a4a4a"/>
<ellipse cx="36" cy="90" rx="15.5" ry="3.4" fill="#6e6e6e" stroke="#1a1a1a" stroke-width="0.6"/>
<ellipse cx="36" cy="90" rx="13" ry="2.3" fill="#858585"/>
<path d="M20.5,106 Q36,110 51.5,106" fill="none" stroke="#7a7a7a" stroke-width="1.2"/>
<path d="M20.5,121 Q36,125 51.5,121" fill="none" stroke="#7a7a7a" stroke-width="1.2"/>
</g>
<use href="#bf" x="41"/>
<use href="#bf" x="76.5"/>
</svg><div class="fr"></div></div>

<div class="t t12" style="left:32px;top:18.6px">Рулевая рубка</div>
<div class="t t12" style="left:33px;top:311.8px">Защищаемое помещение</div>
<div class="t t12" style="left:33px;top:590.9px">Взрывоопасное</div>
<div class="t t12" style="left:33px;top:602.9px">защищаемое помещение</div>

<div class="t t13" style="left:336px;top:62.5px">Щит управления</div>
<div class="t t13" style="left:336px;top:77.0px">и сигнализации ЩУС</div>
<div class="t t13" style="left:174px;top:229.9px">Соединительный</div>
<div class="t t13" style="left:174px;top:244.6px">ящик СВК1</div>
<div class="t t13" style="left:427px;top:217.4px">Генератор</div>
<div class="t t13" style="left:427px;top:232.6px">СОТ-1М</div>
<div class="t t13" style="left:428px;top:355.5px">Генератор</div>
<div class="t t13" style="left:428px;top:370.4px">СОТ-2М</div>
<div class="t t13" style="left:174px;top:536.0px">Щит промежуточных</div>
<div class="t t13" style="left:174px;top:551.5px">реле ЩПР</div>
<div class="t t13" style="left:433px;top:494.7px">Оповещатель</div>
<div class="t t13" style="left:433px;top:509.4px">ОСКС</div>
<div class="t t11" style="left:414px;top:587.9px">Отключение</div>
<div class="t t11" style="left:414px;top:601.8px">вентиляции</div>
<div class="t t13" style="left:429px;top:689.7px">Генератор</div>
<div class="t t13" style="left:429px;top:704.4px">СОТ-2М-КВ</div>
</body></html>
